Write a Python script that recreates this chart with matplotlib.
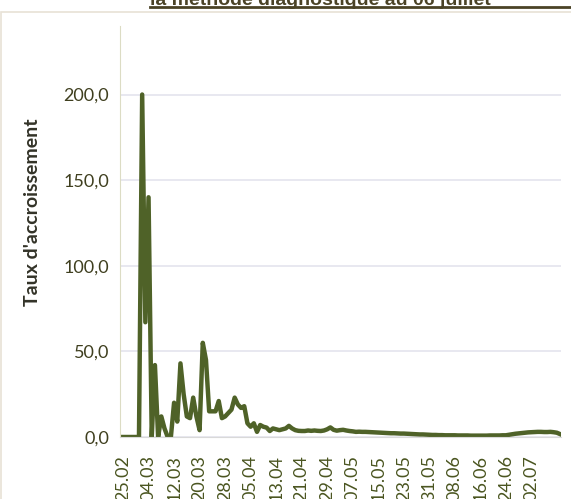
import matplotlib
matplotlib.use("Agg")
import matplotlib.pyplot as plt
from matplotlib.patches import Rectangle
from matplotlib.lines import Line2D
import pandas as pd

# taux d'accroissement journalier, a partir du 25.02
values = [0, 0, 0, 0, 0, 0, 200, 67, 140, 0, 42, 0, 12, 5, 0, 0, 20, 9, 43, 25,
          12, 11, 23, 12, 4, 55, 45, 15, 15, 15, 21, 11, 12, 14, 16, 23, 19, 17, 18, 8,
          6, 8, 3, 7, 6, 5.5, 3.5, 5, 4.5, 4, 4.5, 5, 6.5, 5, 4, 3.6, 3.5, 3.5, 3.8, 3.6,
          3.8, 3.6, 3.5, 3.8, 4.5, 5.6, 4.2, 3.7, 4.0, 4.2, 3.8, 3.5, 3.3, 3.0, 3.1, 3.0, 3.0, 2.9, 2.8, 2.7,
          2.6, 2.5, 2.4, 2.3, 2.2, 2.2, 2.1, 2.0, 2.0, 1.9, 1.8, 1.7, 1.6, 1.5, 1.5, 1.4, 1.3, 1.2, 1.2, 1.1,
          1.1, 1.0, 1.0, 1.0, 1.0, 0.9, 0.9, 0.9, 0.9, 0.8, 0.8, 0.8, 0.8, 0.8, 0.8, 0.9, 0.9, 0.9, 0.9, 1.0,
          1.0, 1.3, 1.6, 1.9, 2.1, 2.3, 2.5, 2.7, 2.8, 2.9, 3.0, 3.0, 2.9, 2.9, 3.0, 2.8, 2.5, 1.7]
dates = pd.date_range("2020-02-25", periods=len(values), freq="D")
tick_dates = pd.date_range("2020-02-25", "2020-07-02", freq="8D")
yticks = [0, 50, 100, 150, 200]
title = "la méthode diagnostique au 06 juillet"

W, H = 571, 499
fig = plt.figure(figsize=(W / 100, H / 100), dpi=100)
ax = fig.add_axes([120 / W, 1 - 437 / H, (561 - 120) / W, (437 - 26) / H])

ax.plot(dates, values, color="#4f6228", lw=3.2, solid_joinstyle="round")

ax.set_ylim(0, 240)
ax.set_yticks(yticks)
ax.set_yticklabels([f"{v:.1f}".replace(".", ",") for v in yticks])
ax.set_xlim(dates[0] - pd.Timedelta(days=0.95), dates[-1] + pd.Timedelta(days=0.3))
ax.set_xticks(tick_dates)
ax.set_xticklabels([d.strftime("%d.%m") for d in tick_dates], rotation=90)

ax.grid(axis="y", color="#e4e4ee", lw=1.2)
ax.set_axisbelow(True)
for s in ("top", "right"):
    ax.spines[s].set_visible(False)
ax.spines["left"].set_color("#dcdcc4")
ax.spines["bottom"].set_color("#d9d9d9")
ax.tick_params(length=0)
ax.tick_params(axis="y", pad=8, labelsize=13, labelcolor="#3f3f1f")
ax.tick_params(axis="x", pad=13, labelsize=13, labelcolor="#4a5520")
for lab in ax.get_xticklabels() + ax.get_yticklabels():
    lab.set_family("Lato")

fig.text(33 / W, 1 - 212 / H, "Taux d'accroissement", rotation=90, ha="center", va="center",
         family="Lato", weight="bold", fontsize=14, color="#333328")

# bord du graphique et titre coupe
fig.add_artist(Rectangle((1 / W, -0.1), 2, 1.1 - 12 / H, transform=fig.transFigure,
                         fill=False, edgecolor="#e8e2d6", lw=1.2))
fig.text(150 / W, 1 - 5 / H, title, ha="left", va="baseline", family="Liberation Sans",
         weight="bold", fontsize=14, color="#4b4326")
fig.add_artist(Line2D([150 / W, 1.0], [1 - 7 / H, 1 - 7 / H], transform=fig.transFigure,
                      color="#4b4326", lw=2))

fig.savefig("out.png", dpi=100)
